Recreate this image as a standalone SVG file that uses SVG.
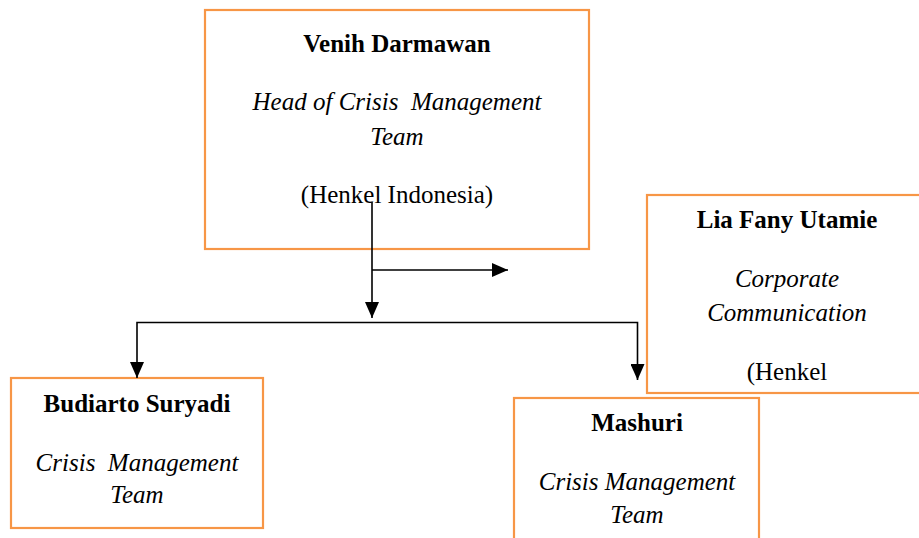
<svg xmlns="http://www.w3.org/2000/svg" width="919" height="538" viewBox="0 0 919 538">
<style>
.box{fill:#fff;stroke:#F79646;stroke-width:2.2}
.t{font-family:"Liberation Serif","Times New Roman",serif;font-size:25px;fill:#000;text-anchor:middle}
.b{font-weight:bold}
.i{font-style:italic}
.c{fill:none;stroke:#000;stroke-width:1.6}
</style>
<defs>
<marker id="ah" markerUnits="userSpaceOnUse" markerWidth="16" markerHeight="14" viewBox="0 0 16 14" refX="16" refY="7" orient="auto">
<path d="M0,0 L16,7 L0,14 Z" fill="#000"/>
</marker>
</defs>
<g id="node-venih">
<rect class="box" x="205" y="10" width="384" height="239"/>
<text class="t b" x="397" y="52" font-size="26">Venih Darmawan</text>
<text class="t i" x="397" y="110" xml:space="preserve">Head of Crisis  Management</text>
<text class="t i" x="397" y="145">Team</text>
<text class="t" x="397" y="203" font-size="26">(Henkel Indonesia)</text>
</g>
<g id="node-lia">
<rect class="box" x="647" y="195" width="285" height="198"/>
<text class="t b" x="787" y="228" font-size="26">Lia Fany Utamie</text>
<text class="t i" x="787" y="287">Corporate</text>
<text class="t i" x="787" y="321">Communication</text>
<text class="t" x="787" y="380" font-size="26">(Henkel</text>
</g>
<g id="node-budiarto">
<rect class="box" x="11" y="378" width="252" height="150"/>
<text class="t b" x="137" y="412" font-size="26">Budiarto Suryadi</text>
<text class="t i" x="137" y="471" xml:space="preserve">Crisis  Management</text>
<text class="t i" x="137" y="503">Team</text>
</g>
<g id="node-mashuri">
<rect class="box" x="514" y="398" width="245" height="150"/>
<text class="t b" x="637" y="431" font-size="26">Mashuri</text>
<text class="t i" x="637" y="490">Crisis Management</text>
<text class="t i" x="637" y="523">Team</text>
</g>
<g id="connectors">
<path class="c" d="M372,202 L372,318" marker-end="url(#ah)"/>
<path class="c" d="M372,270 L508,270" marker-end="url(#ah)"/>
<path class="c" d="M372,322.5 L137,322.5 L137,378" marker-end="url(#ah)"/>
<path class="c" d="M372,322.5 L637.5,322.5 L637.5,380" marker-end="url(#ah)"/>
</g>
</svg>
